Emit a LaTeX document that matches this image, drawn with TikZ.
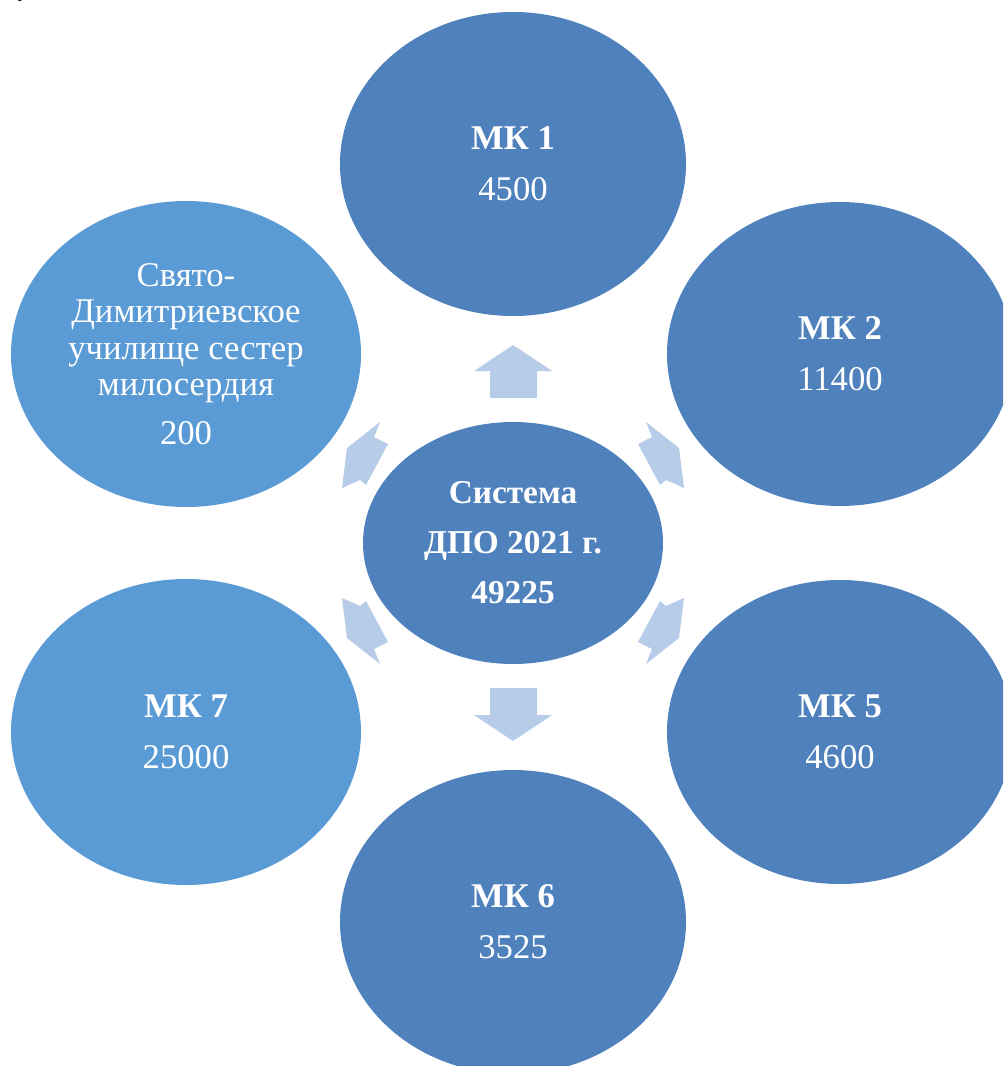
\documentclass[tikz,border=0pt]{standalone}
\usepackage{fontspec}
\setmainfont{Liberation Serif}
\usetikzlibrary{shapes.geometric}

\definecolor{mkdark}{RGB}{79,129,189}
\definecolor{mklight}{RGB}{91,155,213}
\definecolor{arrowpale}{RGB}{183,204,232}

\tikzset{every picture/.style={line width=0.75pt}}
\tikzset{
  mknode/.style={ellipse, fill=mkdark, draw=none, inner sep=0pt, text=white, align=center,
    minimum width=259.5pt, minimum height=228pt, font=\fontsize{26}{38}\selectfont},
  mklightnode/.style={mknode, fill=mklight, minimum width=262.5pt, minimum height=229.5pt},
  sysnode/.style={ellipse, fill=mkdark, draw=none, inner sep=0pt, text=white, align=center,
    minimum width=225pt, minimum height=181.5pt, font=\fontsize{25}{37.5}\selectfont\bfseries},
  blockarr/.style={fill=arrowpale, draw=none}
}

\begin{document}
\begin{tikzpicture}[x=0.75pt,y=0.75pt,yscale=-1,xscale=1]
\useasboundingbox (0,0) rectangle (1003,1066);
\clip (0,0) rectangle (1003,1066);

% Text Node (cut line above the picture)
\node [anchor=base west, inner sep=0pt, font=\fontsize{14}{16}\selectfont] (cutline) at (17,-2) {р};

%Shape: Ellipse
\node [mknode] (mk1) at (513,164) {\textbf{МК 1}\\4500};
%Shape: Ellipse
\node [mknode] (mk2) at (840,354) {\textbf{МК 2}\\11400};
%Shape: Ellipse
\node [mknode] (mk5) at (840,732) {\textbf{МК 5}\\4600};
%Shape: Ellipse
\node [mknode] (mk6) at (513,922) {\textbf{МК 6}\\3525};
%Shape: Ellipse
\node [mklightnode] (mk7) at (186,732) {\textbf{МК 7}\\25000};
%Shape: Ellipse
\node [mklightnode, font=\fontsize{26}{27.4}\selectfont] (svd) at (186,354)
  {Свято-\\Димитриевское\\училище сестер\\милосердия\\[9pt]200};
%Shape: Ellipse
\node [sysnode] (sys) at (513,543) {Система\\ДПО 2021 г.\\49225};

%Shape: Up Arrow
\fill [blockarr] (513,345) -- (552,371) -- (537,371) -- (537,398) -- (490,398) -- (490,371) -- (474,371) -- cycle;
%Shape: Down Arrow
\fill [blockarr] (513,741) -- (552,715) -- (537,715) -- (537,688) -- (490,688) -- (490,715) -- (474,715) -- cycle;
%Shape: Arrow to upper left
\fill [blockarr] (347,448) -- (380,422) -- (374,437) -- (388,444) -- (366,485) -- (360,480) -- (342,488) -- cycle;
%Shape: Arrow to upper right
\fill [blockarr] (679,448) -- (646,422) -- (652,437) -- (638,444) -- (660,485) -- (666,480) -- (684,488) -- cycle;
%Shape: Arrow to lower left
\fill [blockarr] (347,638) -- (380,664) -- (374,649) -- (388,642) -- (366,601) -- (360,606) -- (342,598) -- cycle;
%Shape: Arrow to lower right
\fill [blockarr] (679,638) -- (646,664) -- (652,649) -- (638,642) -- (660,601) -- (666,606) -- (684,598) -- cycle;

\end{tikzpicture}
\end{document}
